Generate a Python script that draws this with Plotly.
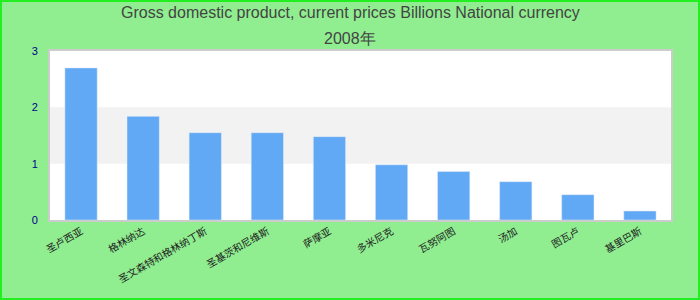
import plotly.graph_objects as go

categories = ["圣卢西亚", "格林纳达", "圣文森特和格林纳丁斯", "圣基茨和尼维斯", "萨摩亚",
              "多米尼克", "瓦努阿图", "汤加", "图瓦卢", "基里巴斯"]
values = [2.70, 1.84, 1.55, 1.55, 1.48, 0.98, 0.86, 0.68, 0.45, 0.16]
y_ticks = [0, 1, 2, 3]
title_lines = ["Gross domestic product, current prices Billions National currency", "2008年"]

ML, MR, MT, MB = 50, 29, 51, 80
PW, PH = 700 - ML - MR, 300 - MT - MB

fig = go.Figure(go.Bar(x=categories, y=values, marker_color="#62a9f5", width=0.52))

annotations = []
for i, line in enumerate(title_lines):
    annotations.append(dict(text=line, xref="paper", yref="paper", x=0.5 - (ML - MR) / 2 / PW,
                            y=1 + (MT - 13 - 25 * i) / PH, xanchor="center", yanchor="middle",
                            showarrow=False, font=dict(size=16, color="#444444",
                                                       family="Liberation Sans, Arial, sans-serif")))

fig.update_layout(
    width=700, height=300,
    margin=dict(l=ML, r=MR, t=MT, b=MB, autoexpand=False),
    paper_bgcolor="#90ee90",
    plot_bgcolor="white",
    font=dict(family="Liberation Sans, Arial, sans-serif"),
    showlegend=False,
    annotations=annotations,
    xaxis=dict(tickangle=-30, tickfont=dict(size=10, color="#222222", family="Noto Sans CJK SC"),
               showline=True, linecolor="#cccccc", linewidth=2, mirror=True, ticks="", range=[-0.5, 9.5],
               automargin=False),
    yaxis=dict(range=[0, 3], tickvals=y_ticks, tickfont=dict(size=11, color="#00008b"),
               showgrid=False, zeroline=False, showline=True, linecolor="#cccccc", linewidth=2, mirror=True,
               ticks="outside", ticklen=8, tickcolor="rgba(0,0,0,0)", automargin=False),
    shapes=[
        dict(type="rect", xref="paper", yref="y", x0=0, x1=1, y0=1, y1=2, fillcolor="#f2f2f2",
             line=dict(width=0), layer="below"),
        dict(type="rect", xref="paper", yref="paper", x0=-(ML - 1) / PW, x1=1 + (MR - 1) / PW,
             y0=-(MB - 1) / PH, y1=1 + (MT - 1) / PH,
             line=dict(color="#22ee22", width=2), fillcolor="rgba(0,0,0,0)"),
    ],
)

fig.write_html("out.html")
